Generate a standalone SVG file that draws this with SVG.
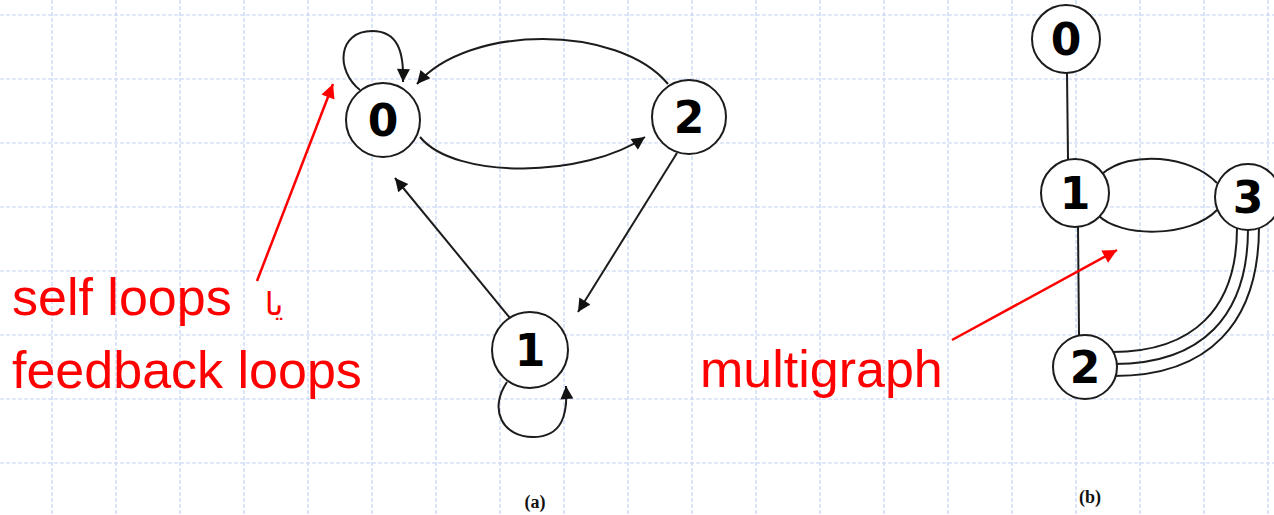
<svg xmlns="http://www.w3.org/2000/svg" width="1274" height="515" viewBox="0 0 1274 515">
<defs>
<style>
.grid line{stroke:#c4d2f6;stroke-width:1.2;stroke-dasharray:4 2}
.edge{fill:none;stroke:#1c1c1c;stroke-width:2}
.node circle{fill:#fff;stroke:#1c1c1c;stroke-width:2}
.node text{font-family:"DejaVu Sans",sans-serif;font-weight:bold;font-size:44px;text-anchor:middle;fill:#000}
.red{font-family:"Liberation Sans",Arial,sans-serif;font-size:52px;fill:#ff0000}
.cap{font-family:"Liberation Serif",serif;font-weight:bold;font-size:18px;text-anchor:middle;fill:#111}
.ann{stroke:#ff0000;stroke-width:2.5;fill:none}
</style>
<marker id="ah" viewBox="0 0 10 10" refX="10" refY="5" markerWidth="15" markerHeight="13" markerUnits="userSpaceOnUse" orient="auto"><path d="M0,0 L10,5 L0,10 z" fill="#111"/></marker>
<marker id="rah" viewBox="0 0 10 10" refX="10" refY="5" markerWidth="16" markerHeight="14" markerUnits="userSpaceOnUse" orient="auto"><path d="M0,0 L10,5 L0,10 z" fill="#ff0000"/></marker>
</defs>
<rect width="1274" height="515" fill="#fff"/>
<g class="grid">
<line x1="52" y1="0" x2="52" y2="515"/><line x1="116" y1="0" x2="116" y2="515"/><line x1="180" y1="0" x2="180" y2="515"/><line x1="244" y1="0" x2="244" y2="515"/><line x1="308" y1="0" x2="308" y2="515"/><line x1="372" y1="0" x2="372" y2="515"/><line x1="436" y1="0" x2="436" y2="515"/><line x1="500" y1="0" x2="500" y2="515"/><line x1="564" y1="0" x2="564" y2="515"/><line x1="628" y1="0" x2="628" y2="515"/><line x1="692" y1="0" x2="692" y2="515"/><line x1="756" y1="0" x2="756" y2="515"/><line x1="820" y1="0" x2="820" y2="515"/><line x1="884" y1="0" x2="884" y2="515"/><line x1="948" y1="0" x2="948" y2="515"/><line x1="1012" y1="0" x2="1012" y2="515"/><line x1="1076" y1="0" x2="1076" y2="515"/><line x1="1140" y1="0" x2="1140" y2="515"/><line x1="1204" y1="0" x2="1204" y2="515"/><line x1="1268" y1="0" x2="1268" y2="515"/>
<line x1="0" y1="15" x2="1274" y2="15"/><line x1="0" y1="79" x2="1274" y2="79"/><line x1="0" y1="143" x2="1274" y2="143"/><line x1="0" y1="207" x2="1274" y2="207"/><line x1="0" y1="271" x2="1274" y2="271"/><line x1="0" y1="335" x2="1274" y2="335"/><line x1="0" y1="399" x2="1274" y2="399"/><line x1="0" y1="463" x2="1274" y2="463"/>
</g>
<g id="connectors">
<path class="edge" marker-end="url(#ah)" d="M 360 90 C 335 70, 338 31, 372 31 C 398 31, 404 52, 403 82"/>
<path class="edge" marker-end="url(#ah)" d="M 668 84 C 618 24, 468 24, 417 84"/>
<path class="edge" marker-end="url(#ah)" d="M 420 137 C 455 180, 585 178, 645 137"/>
<path class="edge" marker-end="url(#ah)" d="M 677 153 L 578 312"/>
<path class="edge" marker-end="url(#ah)" d="M 510 318 L 395 178"/>
<path class="edge" marker-end="url(#ah)" d="M 507 382 C 488 410, 503 437, 533 437 C 562 437, 568 415, 566 386"/>
<path class="edge" d="M 1067 73 L 1068 159"/>
<path class="edge" d="M 1078 227 L 1079 335"/>
<path class="edge" d="M 1102 174 C 1130 150, 1190 155, 1217 183"/>
<path class="edge" d="M 1098 215 C 1120 238, 1190 238, 1217 210"/>
<path class="edge" d="M 1237 228 C 1237 309, 1193 352, 1112 352"/>
<path class="edge" d="M 1248 229 C 1248 317, 1201 364, 1114 364"/>
<path class="edge" d="M 1259 227 C 1259 324, 1208 376, 1114 376"/>
</g>
<g id="a0" class="node"><circle cx="383" cy="120" r="37"/><text x="383" y="136">0</text></g>
<g id="a2" class="node"><circle cx="689" cy="117" r="37"/><text x="689" y="133">2</text></g>
<g id="a1" class="node"><circle cx="530" cy="350" r="38"/><text x="530" y="366">1</text></g>
<g id="b0" class="node"><circle cx="1066" cy="39" r="34"/><text x="1066" y="55">0</text></g>
<g id="b1" class="node"><circle cx="1075" cy="193" r="34"/><text x="1075" y="209">1</text></g>
<g id="b3" class="node"><circle cx="1248" cy="197" r="33"/><text x="1248" y="213">3</text></g>
<g id="b2" class="node"><circle cx="1085" cy="367" r="32"/><text x="1085" y="383">2</text></g>
<g id="labels">
<text class="cap" x="535" y="508">(a)</text>
<text class="cap" x="1090" y="503">(b)</text>
<text class="red" x="12" y="315">self loops</text>
<text class="red" x="12" y="388">feedback loops</text>
<text x="274" y="315" font-family="'DejaVu Sans',sans-serif" font-size="32" fill="#ff0000" text-anchor="middle">يا</text>
<text class="red" x="700" y="387">multigraph</text>
<line class="ann" x1="257" y1="281" x2="333" y2="84" marker-end="url(#rah)"/>
<line class="ann" x1="952" y1="340" x2="1117" y2="250" marker-end="url(#rah)"/>
</g>
</svg>
